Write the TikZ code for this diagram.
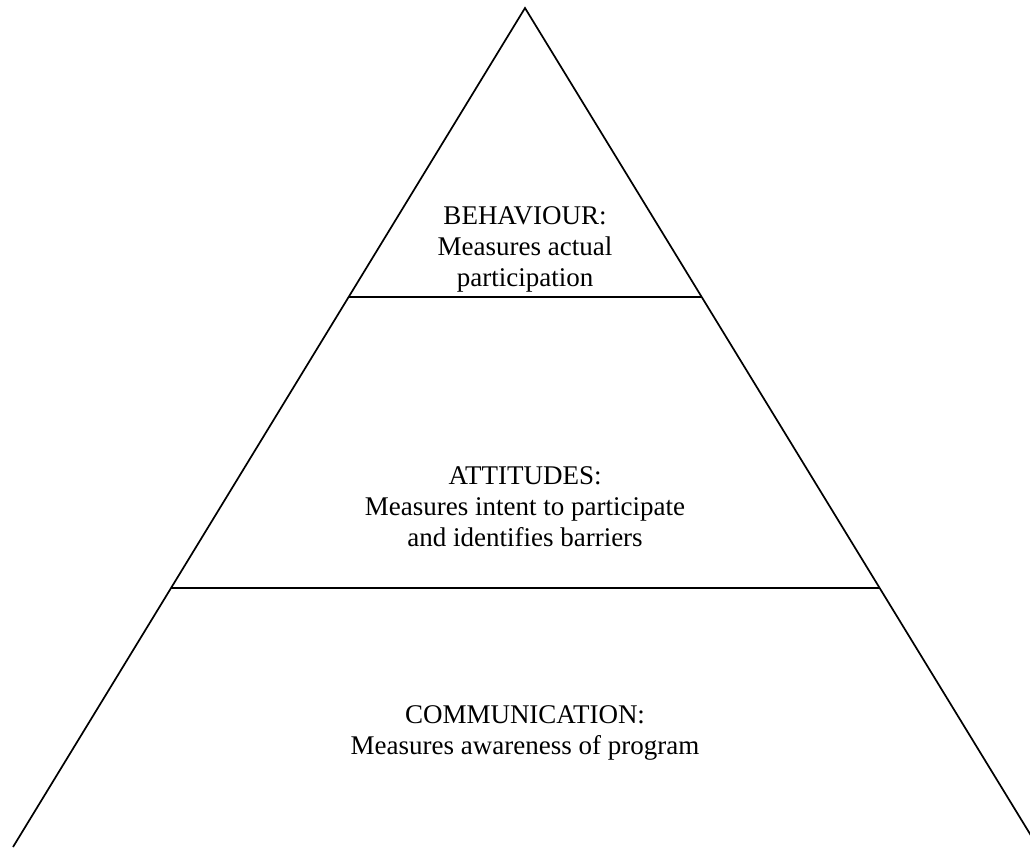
\documentclass[tikz,border=0pt]{standalone}
\usepackage{fontspec}
\setmainfont{Liberation Serif}
\usetikzlibrary{calc}
\usetikzlibrary{positioning}

\tikzset{
  edge/.style={line width=1.7pt},
  tier/.style={align=center, font=\fontsize{27}{31}\selectfont, inner sep=0pt}
}

\begin{document}
\begin{tikzpicture}[x=1pt, y=-1pt]
  \useasboundingbox (0,0) rectangle (1030,847);
  \clip (0,0) rectangle (1030,847);

  % pyramid outline
  \coordinate (apex) at (525,8);
  \coordinate (bl) at (13,847);
  \coordinate (br) at (1038,847);
  \draw[edge] (bl) -- (apex) -- (br);

  % tier borders
  \coordinate (t1l) at ($(apex)!0.3445!(bl)$);
  \coordinate (t1r) at ($(apex)!0.3445!(br)$);
  \coordinate (t2l) at ($(apex)!0.6913!(bl)$);
  \coordinate (t2r) at ($(apex)!0.6913!(br)$);
  \draw[edge] (t1l) -- (t1r);
  \draw[edge] (t2l) -- (t2r);

  % labels
  \node[tier] (behaviour) at (525,249) {BEHAVIOUR:\\Measures actual\\participation};
  \node[tier] (attitudes) at (525,507) {ATTITUDES:\\Measures intent to participate\\and identifies barriers};
  \node[tier] (communication) at (525,733) {COMMUNICATION:\\Measures awareness of program};
\end{tikzpicture}
\end{document}
